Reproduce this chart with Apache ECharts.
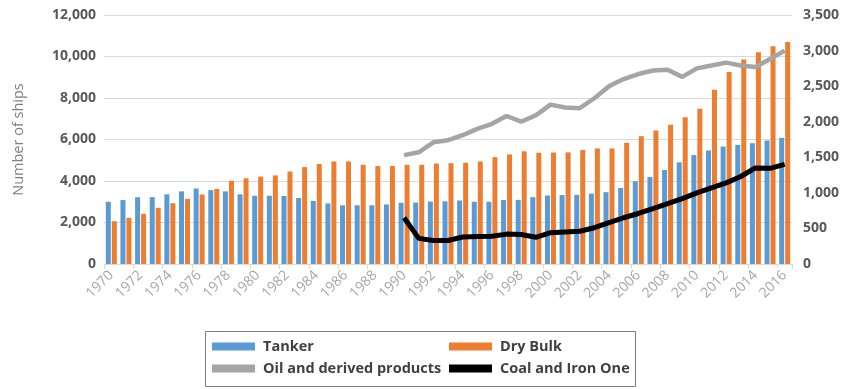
<!DOCTYPE html>
<html>
<head>
<meta charset="utf-8">
<script src="https://cdn.jsdelivr.net/npm/echarts@6/dist/echarts.min.js"></script>
<style>
  html, body { margin: 0; padding: 0; background: #ffffff; }
  #chart { width: 849px; height: 389px; }
</style>
</head>
<body>
<div id="chart"></div>
<script>
// Fleet size by ship type (left axis) and seaborne trade volumes (right axis)
const years = [];
for (let y = 1970; y <= 2016; y++) years.push(String(y));

const tanker = [3000, 3080, 3220, 3220, 3360, 3500, 3640, 3560, 3500, 3360,
  3290, 3290, 3280, 3180, 3040, 2920, 2830, 2830, 2830, 2870,
  2950, 2960, 3010, 3020, 3060, 3000, 3000, 3080, 3090, 3220,
  3300, 3320, 3330, 3390, 3460, 3660, 3990, 4190, 4530, 4900,
  5250, 5470, 5660, 5740, 5820, 5950, 6080];

const dryBulk = [2060, 2230, 2420, 2710, 2930, 3140, 3350, 3620, 4010, 4130,
  4210, 4270, 4460, 4670, 4820, 4940, 4940, 4780, 4720, 4720,
  4780, 4780, 4840, 4860, 4880, 4940, 5150, 5280, 5430, 5360,
  5370, 5380, 5500, 5570, 5570, 5840, 6160, 6430, 6710, 7070,
  7480, 8400, 9250, 9860, 10210, 10490, 10700];

// Trade series only start in 1990
const oilProducts = [1530, 1570, 1710, 1740, 1810, 1900, 1970, 2080, 2000, 2090,
  2240, 2200, 2190, 2330, 2500, 2600, 2670, 2720, 2730, 2630,
  2750, 2790, 2830, 2790, 2770, 2880, 3000];

const coalIron = [650, 360, 330, 330, 380, 385, 390, 420, 415, 375,
  440, 450, 460, 510, 580, 650, 710, 780, 850, 920,
  1000, 1070, 1140, 1230, 1350, 1345, 1400];

const leftTicks = { min: 0, max: 12000, interval: 2000 };
const rightTicks = { min: 0, max: 3500, interval: 500 };

const pad = new Array(years.length - oilProducts.length).fill(null);
const oilSeries = pad.concat(oilProducts);
const coalSeries = pad.concat(coalIron);

const fmt = v => v.toLocaleString('en-US');

const chart = echarts.init(document.getElementById('chart'), null, { renderer: 'canvas' });

const legendText = { fontFamily: 'Open Sans', fontSize: 14.5, fontWeight: 'bold', color: '#404040', padding: [0, 0, 0, 3] };

chart.setOption({
  animation: false,
  backgroundColor: '#ffffff',
  grid: { left: 104, right: 57, top: 15, bottom: 125 },
  graphic: [{
    type: 'rect',
    shape: { x: 205.5, y: 331.5, width: 430, height: 55 },
    style: { fill: 'none', stroke: '#7f7f7f', lineWidth: 1 },
    silent: true
  }],
  legend: [
    {
      data: ['Tanker', 'Oil and derived products'],
      orient: 'vertical', left: 212, top: 339,
      itemWidth: 43, itemHeight: 8, itemGap: 7,
      icon: 'rect', textStyle: legendText, padding: 0
    },
    {
      data: ['Dry Bulk', 'Coal and Iron One'],
      orient: 'vertical', left: 449, top: 339,
      itemWidth: 43, itemHeight: 8, itemGap: 7,
      icon: 'rect', textStyle: legendText, padding: 0
    }
  ],
  xAxis: {
    type: 'category',
    data: years,
    boundaryGap: true,
    axisLine: { lineStyle: { color: '#d9d9d9', width: 1 } },
    axisTick: { show: true, length: 5, lineStyle: { color: '#d9d9d9' } },
    axisLabel: {
      interval: 1, rotate: 45, margin: 9,
      fontFamily: 'Open Sans', fontSize: 14, color: '#a6a6a6'
    }
  },
  yAxis: [
    {
      type: 'value',
      min: leftTicks.min, max: leftTicks.max, interval: leftTicks.interval,
      name: 'Number of ships', nameLocation: 'middle', nameGap: 78, nameRotate: 90,
      nameTextStyle: { fontFamily: 'Open Sans', fontSize: 14.5, color: '#7f7f7f' },
      axisLine: { show: false }, axisTick: { show: false },
      axisLabel: {
        formatter: fmt, margin: 8,
        fontFamily: 'Open Sans', fontSize: 14, fontWeight: 'bold', color: '#595959'
      },
      splitLine: { lineStyle: { color: '#d9d9d9', width: 1 } }
    },
    {
      type: 'value',
      min: rightTicks.min, max: rightTicks.max, interval: rightTicks.interval,
      position: 'right',
      axisLine: { show: false }, axisTick: { show: false },
      axisLabel: {
        formatter: fmt, margin: 11,
        fontFamily: 'Open Sans', fontSize: 14, fontWeight: 'bold', color: '#595959'
      },
      splitLine: { show: false }
    }
  ],
  series: [
    {
      name: 'Tanker', type: 'bar', yAxisIndex: 0, data: tanker,
      barWidth: 5, barGap: '20%',
      itemStyle: { color: '#5b9bd5' }
    },
    {
      name: 'Dry Bulk', type: 'bar', yAxisIndex: 0, data: dryBulk,
      barWidth: 5, barGap: '20%',
      itemStyle: { color: '#ed7d31' }
    },
    {
      name: 'Oil and derived products', type: 'line', yAxisIndex: 1, data: oilSeries,
      showSymbol: false, symbol: 'none',
      lineStyle: { color: '#a5a5a5', width: 4.5 },
      itemStyle: { color: '#a5a5a5' }
    },
    {
      name: 'Coal and Iron One', type: 'line', yAxisIndex: 1, data: coalSeries,
      showSymbol: false, symbol: 'none',
      lineStyle: { color: '#000000', width: 5 },
      itemStyle: { color: '#000000' }
    }
  ]
});
</script>
</body>
</html>
